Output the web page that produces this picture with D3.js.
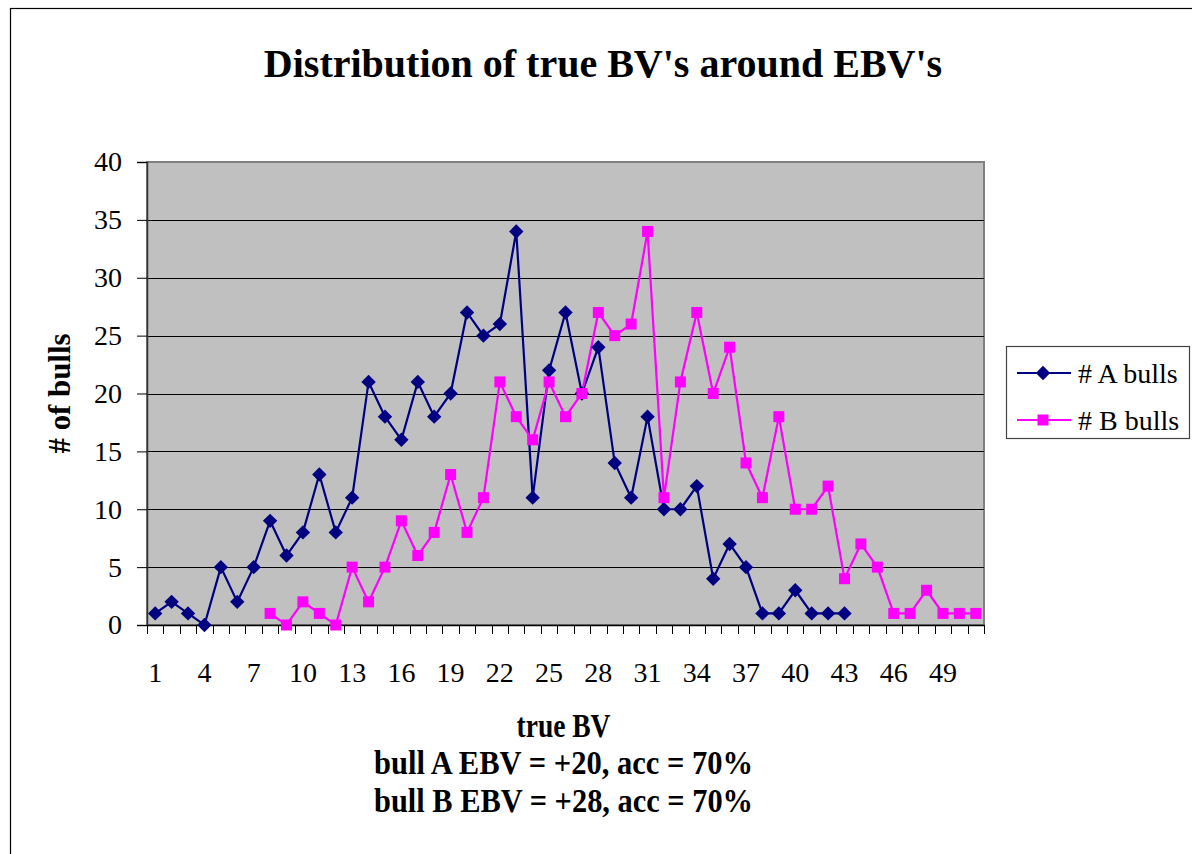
<!DOCTYPE html>
<html><head><meta charset="utf-8">
<script src="https://cdn.jsdelivr.net/npm/d3@7"></script>
<style>
body{margin:0;background:#fff}
svg{display:block}
</style>
</head><body>
<svg id="chart" width="1192" height="854"></svg>
<script>
// ---- data ----
const categories = [1,2,3,4,5,6,7,8,9,10,11,12,13,14,15,16,17,18,19,20,21,22,23,24,25,26,27,28,29,30,31,32,33,34,35,36,37,38,39,40,41,42,43,44,45,46,47,48,49,50,51];
const xTickLabels = [1,4,7,10,13,16,19,22,25,28,31,34,37,40,43,46,49];
const yTicks = [0,5,10,15,20,25,30,35,40];
const seriesAName = "# A bulls";
const seriesBName = "# B bulls";
const seriesA = [1,2,1,0,5,2,5,9,6,8,13,8,11,21,18,16,21,18,20,27,25,26,34,11,22,27,20,24,14,11,18,10,10,12,4,7,5,1,1,3,1,1,1,null,null,null,null,null,null,null,null];
const seriesB = [null,null,null,null,null,null,null,1,0,2,1,0,5,2,5,9,6,8,13,8,11,21,18,16,21,18,20,27,25,26,34,11,21,27,20,24,14,11,18,10,10,12,4,7,5,1,1,3,1,1,1];
const titleText = "Distribution of true BV's around EBV's";
const yTitle = "# of bulls";
const xTitleLines = ["true BV","bull A EBV = +20, acc = 70%","bull B EBV = +28, acc = 70%"];

// ---- layout ----
const FONT = "'Liberation Serif', 'Times New Roman', Times, serif";
const svg = d3.select("#chart");
const plot = {left:147, right:984, top:162, bottom:625};
const colA = "#000080", colB = "#FF00FF";

// outer chart border
svg.append("rect").attr("x",10.5).attr("y",8.5).attr("width",1220).attr("height",900)
  .attr("fill","#fff").attr("stroke","#000").attr("stroke-width",1.2);

const x = d3.scaleBand().domain(categories).range([plot.left, plot.right]).padding(0);
const y = d3.scaleLinear().domain([0,40]).range([plot.bottom, plot.top]);
const cx = c => x(c) + x.bandwidth()/2;

// plot area
svg.append("rect").attr("x",plot.left).attr("y",plot.top)
  .attr("width",plot.right-plot.left).attr("height",plot.bottom-plot.top)
  .attr("fill","#C0C0C0").attr("stroke","#808080").attr("stroke-width",2);

// gridlines
svg.append("g").selectAll("line").data(yTicks.filter(v=>v>0 && v<40)).join("line")
  .attr("x1",plot.left).attr("x2",plot.right)
  .attr("y1",d=>Math.round(y(d))+0.5).attr("y2",d=>Math.round(y(d))+0.5)
  .attr("stroke","#000").attr("stroke-width",1);

// y axis
const yAxis = svg.append("g").attr("transform",`translate(${plot.left},0)`)
  .call(d3.axisLeft(y).tickValues(yTicks).tickSize(10).tickPadding(15).tickFormat(d3.format("d")));
yAxis.attr("font-family",null).attr("font-size",null);
yAxis.select(".domain").attr("stroke","#333").attr("stroke-width",1.5);
yAxis.selectAll(".tick line").attr("stroke","#000");
yAxis.selectAll("text").style("font-family",FONT).style("font-size","28px").style("fill","#000");

// x axis labels
const xAxis = svg.append("g").attr("transform",`translate(0,${plot.bottom})`)
  .call(d3.axisBottom(x).tickValues(xTickLabels).tickSize(0).tickPadding(37));
xAxis.attr("font-family",null).attr("font-size",null);
xAxis.select(".domain").attr("stroke","#000").attr("stroke-width",1.5);
xAxis.selectAll("text").style("font-family",FONT).style("font-size","28px").style("fill","#000");
// x tick marks at category boundaries
const bounds = categories.map(c => x(c)).concat([x(categories[categories.length-1]) + x.bandwidth()]);
svg.append("g").selectAll("line").data(bounds).join("line")
  .attr("x1",d=>Math.round(d)+0.5).attr("x2",d=>Math.round(d)+0.5)
  .attr("y1",plot.bottom).attr("y2",plot.bottom+9)
  .attr("stroke","#000").attr("stroke-width",1);

// series
const lineGen = d3.line().defined(d=>d.v!==null).x(d=>cx(d.c)).y(d=>y(d.v));
const dataA = categories.map((c,i)=>({c, v:seriesA[i]}));
const dataB = categories.map((c,i)=>({c, v:seriesB[i]}));

svg.append("path").datum(dataA).attr("d",lineGen).attr("fill","none").attr("stroke",colA).attr("stroke-width",2.2);
svg.append("path").datum(dataB).attr("d",lineGen).attr("fill","none").attr("stroke",colB).attr("stroke-width",2.2);

const diamond = (r) => `M0,${-r}L${r},0L0,${r}L${-r},0Z`;
svg.append("g").selectAll("path").data(dataA.filter(d=>d.v!==null)).join("path")
  .attr("transform",d=>`translate(${cx(d.c)},${y(d.v)})`)
  .attr("d",diamond(7.2)).attr("fill",colA);
svg.append("g").selectAll("rect").data(dataB.filter(d=>d.v!==null)).join("rect")
  .attr("x",d=>cx(d.c)-5.5).attr("y",d=>y(d.v)-5.5).attr("width",11).attr("height",11)
  .attr("fill",colB);

// title
svg.append("text").attr("x",603).attr("y",77).attr("text-anchor","middle")
  .style("font-family",FONT).style("font-size","40px").style("font-weight","bold").text(titleText);

// y title
svg.append("text").attr("transform",`translate(70,${(plot.top+plot.bottom)/2}) rotate(-90)`)
  .attr("text-anchor","middle").style("font-family",FONT).style("font-size","31px").style("font-weight","bold")
  .attr("textLength",120).attr("lengthAdjust","spacingAndGlyphs").text(yTitle);

// x title lines
const xtY = [737,774,812];
const xtW = [94,379,379];
xTitleLines.forEach((t,i)=>{
  svg.append("text").attr("x",563.5).attr("y",xtY[i]).attr("text-anchor","middle")
    .style("font-family",FONT).style("font-size","33px").style("font-weight","bold")
    .attr("textLength",xtW[i]).attr("lengthAdjust","spacingAndGlyphs").text(t);
});

// legend
const lg = svg.append("g");
lg.append("rect").attr("x",1006.5).attr("y",346.5).attr("width",183).attr("height",92)
  .attr("fill","#fff").attr("stroke","#444").attr("stroke-width",1.2);
const legendItems = [{name:seriesAName,col:colA,ty:373,shape:"d"},{name:seriesBName,col:colB,ty:420,shape:"s"}];
legendItems.forEach(it=>{
  lg.append("line").attr("x1",1017).attr("x2",1071).attr("y1",it.ty).attr("y2",it.ty)
    .attr("stroke",it.col).attr("stroke-width",2.2);
  if(it.shape==="d"){
    lg.append("path").attr("transform",`translate(1043,${it.ty})`).attr("d",diamond(7.2)).attr("fill",it.col);
  } else {
    lg.append("rect").attr("x",1043-5.5).attr("y",it.ty-5.5).attr("width",11).attr("height",11).attr("fill",it.col);
  }
  lg.append("text").attr("x",1078).attr("y",it.ty+10)
    .style("font-family",FONT).style("font-size","28px").text(it.name);
});
</script>
</body></html>
